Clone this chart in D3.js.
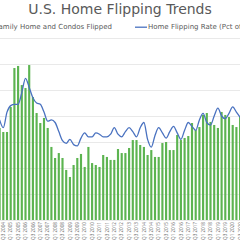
<!DOCTYPE html>
<html lang="en">
<head>
<meta charset="utf-8">
<title>U.S. Home Flipping Trends</title>
<script src="https://cdn.jsdelivr.net/npm/d3@7"></script>
<style>
  body { margin: 0; background: #fff; }
  svg { display: block; font-family: "DejaVu Sans", sans-serif; }
  .grid line { stroke: #e3e3e3; stroke-width: 0.8; shape-rendering: crispEdges; }
  .grid path { display: none; }
  .xaxis path, .xaxis line { display: none; }
  .xaxis text { fill: #6a6a6a; font-size: 4.6px; font-family: "Open Sans", sans-serif; }
</style>
</head>
<body>
<script>
// quarters shown (chart is cropped at both sides)
var quarters = [
  "Q2 2004","Q3 2004","Q4 2004",
  "Q1 2005","Q2 2005","Q3 2005","Q4 2005",
  "Q1 2006","Q2 2006","Q3 2006","Q4 2006",
  "Q1 2007","Q2 2007","Q3 2007","Q4 2007",
  "Q1 2008","Q2 2008","Q3 2008","Q4 2008",
  "Q1 2009","Q2 2009","Q3 2009","Q4 2009",
  "Q1 2010","Q2 2010","Q3 2010","Q4 2010",
  "Q1 2011","Q2 2011","Q3 2011","Q4 2011",
  "Q1 2012","Q2 2012","Q3 2012","Q4 2012",
  "Q1 2013","Q2 2013","Q3 2013","Q4 2013",
  "Q1 2014","Q2 2014","Q3 2014","Q4 2014",
  "Q1 2015","Q2 2015","Q3 2015","Q4 2015",
  "Q1 2016","Q2 2016","Q3 2016","Q4 2016",
  "Q1 2017","Q2 2017","Q3 2017","Q4 2017",
  "Q1 2018","Q2 2018","Q3 2018","Q4 2018",
  "Q1 2019","Q2 2019","Q3 2019","Q4 2019",
  "Q1 2020","Q2 2020","Q3 2020"
];

// homes flipped, thousands
var flipped = [
  70.8, 67.7, 67.7, 86.9, 116.9, 118.5, 103.8, 101.5, 119.2, 94.6,
  82.3, 74.6, 78.5, 70.8, 56.2, 47.7, 51.5, 47.7, 38.5, 33.1,
  42.3, 47.7, 50.8, 40.8, 56.2, 43.8, 42.3, 40.8, 50.0, 48.5,
  46.2, 46.2, 54.6, 51.5, 51.5, 55.4, 61.5, 61.5, 57.7, 56.2,
  50.0, 53.8, 48.5, 48.5, 59.2, 60.0, 53.8, 53.8, 65.4, 61.5,
  63.1, 64.6, 74.6, 69.2, 71.5, 80.8, 82.3, 75.4, 73.1, 70.8,
  83.1, 80.8, 79.2, 73.1, 71.5, 79.2
];

// flipping rate, pct of all home sales
var rate = [
  7.7, 7.1, 8.3, 8.8, 8.9, 8.9, 9.8, 10.9, 10.2, 9.4,
  9.0, 8.9, 8.3, 7.6, 7.7, 7.5, 6.8, 6.1, 5.9, 6.2,
  5.8, 5.7, 6.3, 6.7, 6.4, 6.4, 6.7, 6.6, 6.4, 6.4,
  6.6, 7.1, 6.6, 6.4, 6.8, 7.1, 6.8, 6.4, 7.1, 7.5,
  6.2, 5.6, 6.5, 7.1, 6.7, 6.3, 6.8, 7.2, 6.7, 6.2,
  6.9, 7.5, 7.2, 6.9, 7.7, 8.2, 7.5, 7.3, 8.0, 8.6,
  8.0, 7.8, 8.2, 8.7, 8.3, 7.9
];

var leftTicks = [0, 20, 40, 60, 80, 100, 120, 140];

var w = 240, h = 240;
var plotTop = 38, plotBottom = 220;

var svg = d3.select("body").append("svg")
    .attr("width", w)
    .attr("height", h);

var x = d3.scaleBand()
    .domain(quarters)
    .range([-2.25, -2.25 + quarters.length * 3.7])
    .paddingInner(0.42)
    .paddingOuter(0.21);

var y = d3.scaleLinear().domain([0, 140]).range([plotBottom, plotTop]);
var y2 = d3.scaleLinear().domain([0, 14]).range([plotBottom, plotTop]);

svg.append("g")
    .attr("class", "grid")
    .attr("transform", "translate(-5,0)")
    .call(d3.axisLeft(y).tickValues(leftTicks).tickSize(-w - 10).tickFormat(""));

svg.selectAll("rect.bar")
    .data(flipped)
    .enter()
    .append("rect")
    .attr("class", "bar")
    .attr("x", function(d, i) { return x(quarters[i]); })
    .attr("y", function(d) { return y(d); })
    .attr("width", x.bandwidth())
    .attr("height", function(d) { return y(0) - y(d); })
    .attr("fill", "#5cb450");

var line = d3.line()
    .x(function(d, i) { return x(quarters[i]) + x.bandwidth() / 2; })
    .y(function(d) { return y2(d); })
    .curve(d3.curveMonotoneX);

svg.append("path")
    .datum(rate)
    .attr("d", line)
    .attr("fill", "none")
    .attr("stroke", "#4a72c0")
    .attr("stroke-width", 1.3);

// every other quarter labelled
var xAxis = d3.axisBottom(x)
    .tickValues(quarters.filter(function(q, i) { return i % 2 == 1; }));

svg.append("g")
    .attr("class", "xaxis")
    .attr("transform", "translate(0," + plotBottom + ")")
    .call(xAxis)
    .selectAll("text")
    .attr("transform", "rotate(-90)")
    .attr("x", -2)
    .attr("y", 0)
    .attr("dy", "0.35em")
    .style("text-anchor", "end");

svg.append("text")
    .attr("x", 120)
    .attr("y", 13.5)
    .attr("text-anchor", "middle")
    .style("font-size", "14px")
    .style("fill", "#595959")
    .text("U.S. Home Flipping Trends");

// legend
svg.append("rect")
    .attr("x", -40).attr("y", 24)
    .attr("width", 5).attr("height", 5)
    .attr("fill", "#5cb450");

svg.append("text")
    .attr("x", 112)
    .attr("y", 29.4)
    .attr("text-anchor", "end")
    .style("font-size", "7px")
    .style("fill", "#595959")
    .text("Single Family Home and Condos Flipped");

svg.append("line")
    .attr("x1", 135).attr("x2", 147)
    .attr("y1", 27.2).attr("y2", 27.2)
    .attr("stroke", "#4a72c0")
    .attr("stroke-width", 1.3);

svg.append("text")
    .attr("x", 148)
    .attr("y", 29.4)
    .style("font-size", "7px")
    .style("fill", "#595959")
    .text("Home Flipping Rate (Pct of All Home Sales)");
</script>
</body>
</html>
